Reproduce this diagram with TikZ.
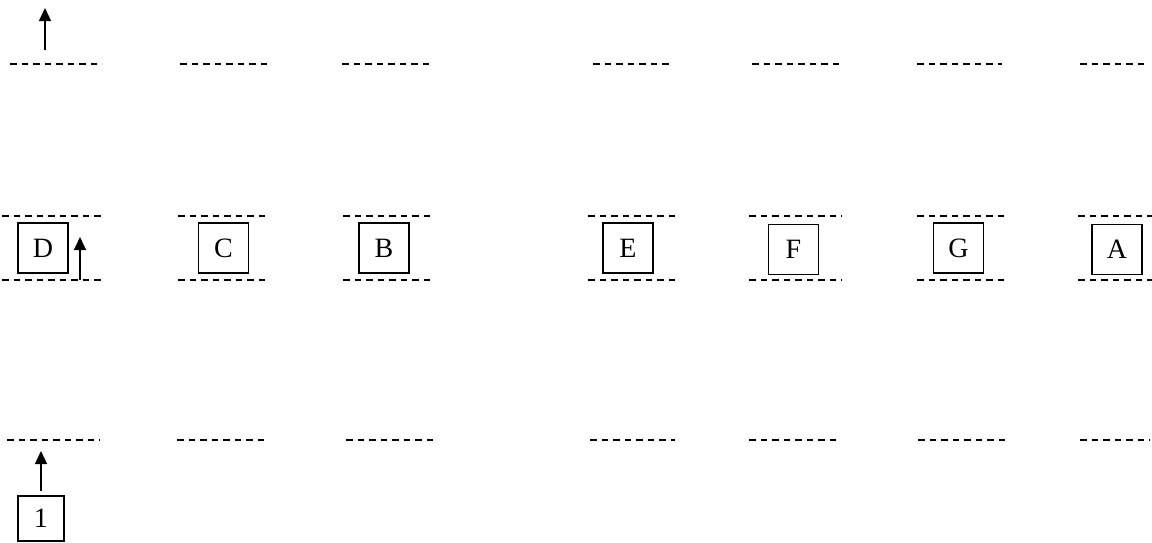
\documentclass[tikz,border=0pt]{standalone}
\usepackage{fontspec}
\setmainfont{Liberation Serif}
\usetikzlibrary{arrows.meta}
\begin{document}
\begin{tikzpicture}[x=1pt,y=-1pt,
  lbox/.style={draw,line width=1.8pt,minimum width=50pt,minimum height=50pt,inner sep=0pt,font=\fontsize{28}{30}\selectfont},
  dline/.style={line width=1.6pt,dash pattern=on 6.5pt off 5pt},
  uparrow/.style={line width=1.3pt,-{Triangle[length=13pt,width=12pt]}}]
\useasboundingbox (0,0) rectangle (1152,542);
% boxes
\node[lbox] (D) at (43,248) {D};
\node[lbox] (C) at (223.5,248) {C};
\node[lbox] (B) at (384,248) {B};
\node[lbox] (E) at (628,248) {E};
\node[lbox] (F) at (793.5,249.5) {F};
\node[lbox] (G) at (958.5,248) {G};
\node[lbox] (A) at (1117,249.5) {A};
\node[lbox,minimum width=46pt,minimum height=45pt] (N1) at (41,518.5) {1};
% top row dashed
\foreach \a/\b [count=\i] in {10/102,180/270,342/433,593/673,752/843,917/1002,1080/1147}{
  \coordinate (tl\i) at (\a,64); \coordinate (tr\i) at (\b,64);
  \draw[dline] (tl\i) -- (tr\i);}
% middle upper dashed
\foreach \a/\b [count=\i] in {2/103,178/268,343/433,588/677,749/842,917/1005,1078/1152}{
  \coordinate (ml\i) at (\a,216); \coordinate (mr\i) at (\b,216);
  \draw[dline] (ml\i) -- (mr\i);}
% middle lower dashed
\foreach \a/\b [count=\i] in {2/103,178/268,343/433,588/677,749/842,917/1005,1078/1152}{
  \coordinate (nl\i) at (\a,280); \coordinate (nr\i) at (\b,280);
  \draw[dline] (nl\i) -- (nr\i);}
% bottom row dashed
\foreach \a/\b [count=\i] in {7/100,177/268,346/436,590/675,749/840,918/1005,1080/1150}{
  \coordinate (bl\i) at (\a,440); \coordinate (br\i) at (\b,440);
  \draw[dline] (bl\i) -- (br\i);}
% arrows
\coordinate (t0) at (45,50);
\coordinate (t1) at (45,8);
\draw[uparrow] (t0) -- (t1);
\coordinate (m0) at (80,280);
\coordinate (m1) at (80,237);
\draw[uparrow] (m0) -- (m1);
\coordinate (b1) at (41,451);
\draw[uparrow] ([yshift=4pt]N1.north) -- (b1);
\end{tikzpicture}
\end{document}
